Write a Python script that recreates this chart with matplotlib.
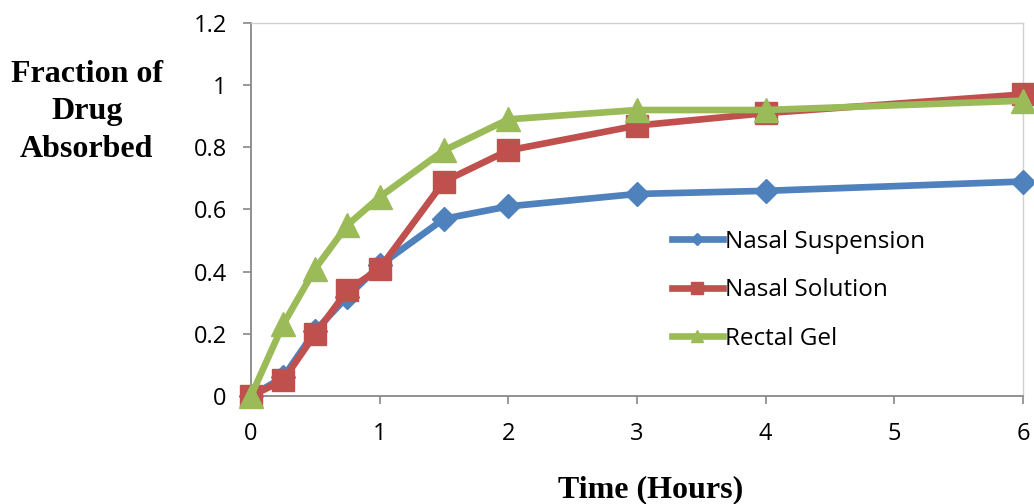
import matplotlib.pyplot as plt

hours = [0, 0.25, 0.5, 0.75, 1, 1.5, 2, 3, 4, 6]
nasal_suspension = [0, 0.06, 0.21, 0.32, 0.42, 0.57, 0.61, 0.65, 0.66, 0.69]
nasal_solution = [0, 0.05, 0.20, 0.34, 0.41, 0.69, 0.79, 0.87, 0.91, 0.97]
rectal_gel = [0, 0.23, 0.41, 0.55, 0.64, 0.79, 0.89, 0.92, 0.92, 0.95]

x_ticks = [0, 1, 2, 3, 4, 5, 6]
y_ticks = [0, 0.2, 0.4, 0.6, 0.8, 1, 1.2]
y_tick_labels = ["0", "0.2", "0.4", "0.6", "0.8", "1", "1.2"]

plt.rcParams["font.family"] = ["Open Sans", "DejaVu Sans"]

fig = plt.figure(figsize=(10.34, 5.04), dpi=100)
ax = fig.add_axes([0.2427, 0.2143, 0.7466, 0.7401])

ax.plot(hours, nasal_suspension, color="#4F81BD", lw=4.8, marker="D", ms=12,
        label="Nasal Suspension", clip_on=False, zorder=3)
ax.plot(hours, nasal_solution, color="#C0504D", lw=4.8, marker="s", ms=16,
        label="Nasal Solution", clip_on=False, zorder=4)
ax.plot(hours, rectal_gel, color="#9BBB59", lw=4.8, marker="^", ms=17,
        label="Rectal Gel", clip_on=False, zorder=5)

ax.set_xlim(0, 6)
ax.set_ylim(0, 1.2)
ax.set_xticks(x_ticks)
ax.set_yticks(y_ticks)
ax.set_yticklabels(y_tick_labels)
ax.tick_params(direction="out", length=5.5, width=1.2, color="#888888",
               labelsize=17)
ax.tick_params(axis="y", pad=12)
ax.tick_params(axis="x", pad=13)

for side in ["left", "bottom"]:
    ax.spines[side].set_color("#888888")
    ax.spines[side].set_linewidth(1.3)
for side in ["top", "right"]:
    ax.spines[side].set_color("#D0D0D0")
    ax.spines[side].set_linewidth(1.0)

fig.text(0.084, 0.778, "Fraction of\nDrug\nAbsorbed", ha="center", va="center",
         family="Liberation Serif", fontweight="bold", fontsize=23,
         linespacing=1.4)
fig.text(0.629, 0.028, "Time (Hours)", ha="center", va="center",
         family="Liberation Serif", fontweight="bold", fontsize=23)

leg = ax.legend(loc="upper left", bbox_to_anchor=(0.545, 0.445), frameon=False,
                fontsize=17.5, markerscale=0.55, handlelength=2.1,
                handletextpad=0.1, labelspacing=1.0, borderaxespad=0,
                borderpad=0)

fig.savefig("out.png", dpi=100)
